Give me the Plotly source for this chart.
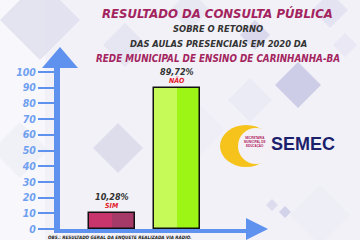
import plotly.graph_objects as go

# ---- data ----
categories = ["SIM", "NÃO"]
values = [10.28, 89.72]
value_labels = ["10,28%", "89,72%"]
tick_values = [0, 10, 20, 30, 40, 50, 60, 70, 80, 90, 100]
tick_labels = ["0", "10", "20", "30", "40", "50", "60", "70", "80", "90", "100"]
light_colors = ["#c8356c", "#c6fa58"]
dark_colors = ["#a53a68", "#9df516"]

W, H = 360, 240
def P(x, y):
    return x / W, 1 - y / H

BLUE = "#5f92ee"
MAG = "#a3245e"
FONT = "Liberation Sans Narrow, DejaVu Sans Condensed, Liberation Sans, sans-serif"

fig = go.Figure()
bw = 0.70
fig.add_trace(go.Bar(x=categories, y=values, width=bw, offset=-bw / 2,
                     marker=dict(color=light_colors, line=dict(width=0)), hoverinfo="skip"))
fig.add_trace(go.Bar(x=categories, y=values, width=bw / 2, offset=0,
                     marker=dict(color=dark_colors, line=dict(width=0)), hoverinfo="skip"))
fig.add_trace(go.Bar(x=categories, y=values, width=bw, offset=-bw / 2,
                     marker=dict(color="rgba(0,0,0,0)", line=dict(width=1.5, color="#111")),
                     hoverinfo="skip"))

y0_px, ytop_px, px_per_unit = 229, 67, 1.57
x_left_px, x_right_px = 60, 248
c0_px, c_step = 112, 65

shapes = []
def poly(pts, color, opacity=1.0):
    d = "M " + " L ".join(f"{P(x, y)[0]:.4f},{P(x, y)[1]:.4f}" for x, y in pts) + " Z"
    shapes.append(dict(type="path", path=d, xref="paper", yref="paper", fillcolor=color,
                       line=dict(width=0), layer="below", opacity=opacity))

# light left-side glow
shapes.append(dict(type="rect", xref="paper", yref="paper", x0=0, x1=P(45, 0)[0], y0=0, y1=1,
                   fillcolor="#fafafd", line=dict(width=0), layer="below", opacity=0.7))
for cx, cy, r, col, op in [
    (40, 20, 40, "#dfdfee", 0.8), (125, 45, 22, "#e2e2f0", 0.8), (118, 148, 25, "#dadaea", 0.9),
    (190, 10, 20, "#e4e4f0", 0.7), (298, 85, 23, "#c9c9e6", 0.9), (255, 35, 15, "#d2d2ea", 0.8),
    (330, 10, 18, "#e0e0ef", 0.8), (345, 45, 12, "#e6e6f2", 0.8), (272, 205, 6, "#dcdcee", 1),
    (285, 212, 6, "#d2d2ea", 1), (320, 215, 30, "#ececf5", 0.7), (190, 130, 35, "#ececf5", 0.6),
    (20, 150, 28, "#ebebf4", 0.6), (250, 100, 22, "#e8e8f3", 0.7)]:
    poly([(cx, cy - r), (cx + r, cy), (cx, cy + r), (cx - r, cy)], col, op)

# axis arrowheads
shapes.append(dict(type="path", xref="paper", yref="paper", fillcolor=BLUE, line=dict(width=0),
                   path="M {} {} L {} {} L {} {} Z".format(*P(60, 47), *P(42, 68), *P(78, 68))))
shapes.append(dict(type="path", xref="paper", yref="paper", fillcolor=BLUE, line=dict(width=0),
                   path="M {} {} L {} {} L {} {} Z".format(*P(268, 229), *P(246, 218), *P(246, 240))))

# SEMEC logo
shapes.append(dict(type="circle", xref="paper", yref="paper", fillcolor="#f6c31c", line=dict(width=0),
                   x0=P(220, 0)[0], x1=P(272, 0)[0], y0=P(0, 167)[1], y1=P(0, 125)[1]))
shapes.append(dict(type="circle", xref="paper", yref="paper", fillcolor="#f4f1f6", line=dict(width=0),
                   x0=P(238, 0)[0], x1=P(274, 0)[0], y0=P(0, 164)[1], y1=P(0, 128)[1]))

annotations = []
def txt(s, x, y, size, color, weight="bold", style="italic", family=FONT):
    annotations.append(dict(text=s, x=P(x, y)[0], y=P(x, y)[1], xref="paper", yref="paper",
                            showarrow=False, xanchor="center", yanchor="middle",
                            font=dict(size=size, color=color, family=family, weight=weight, style=style)))

txt("RESULTADO DA CONSULTA PÚBLICA", 218, 13, 13, MAG)
txt("SOBRE O RETORNO", 218, 28, 9.3, "#333")
txt("DAS AULAS PRESENCIAIS EM 2020 DA", 219, 43, 9.3, "#333")
txt("REDE MUNICIPAL DE ENSINO DE CARINHANHA-BA", 218, 58, 9.8, MAG)
txt("OBS.: RESULTADO GERAL DA ENQUETE REALIZADA VIA RÁDIO.", 120, 237, 4.6, "#222")
txt("SEMEC", 303, 144, 18, "#1c1f6c", style="normal", family="Liberation Sans, Arial, sans-serif")
txt("SECRETARIA<br>MUNICIPAL DE<br>EDUCAÇÃO", 254, 142, 3, "#b02060", style="normal",
    family="Liberation Sans, sans-serif")

for cat, v, lab in zip(categories, values, value_labels):
    annotations.append(dict(x=cat, y=v, xref="x", yref="y", text=lab, showarrow=False,
                            yanchor="bottom", yshift=9,
                            font=dict(size=9, color="#333", family=FONT, weight="bold", style="italic")))
    annotations.append(dict(x=cat, y=v, xref="x", yref="y", text=cat, showarrow=False,
                            yanchor="bottom", yshift=1,
                            font=dict(size=7, color="#e3202a", family=FONT, weight="bold", style="italic")))

yrange_top = (y0_px - ytop_px) / px_per_unit
fig.update_layout(
    width=W, height=H, autosize=False, margin=dict(l=0, r=0, t=0, b=0, pad=0),
    paper_bgcolor="#f2f1f8", plot_bgcolor="rgba(0,0,0,0)",
    barmode="overlay", bargap=0, showlegend=False,
    shapes=shapes, annotations=annotations,
    xaxis=dict(domain=[x_left_px / W, x_right_px / W],
               range=[(x_left_px - c0_px) / c_step, (x_right_px - c0_px) / c_step],
               showline=True, linewidth=4, linecolor=BLUE, showticklabels=False,
               ticks="", showgrid=False, zeroline=False, fixedrange=True, automargin=False),
    yaxis=dict(domain=[(H - y0_px) / H, (H - ytop_px) / H], range=[0, yrange_top],
               showline=True, linewidth=6, linecolor=BLUE, showgrid=False, zeroline=False,
               tickvals=tick_values, ticktext=tick_labels, ticks="outside", ticklen=16,
               tickwidth=2, tickcolor=BLUE, automargin=False,
               tickfont=dict(size=10.5, color="#6f9ff0", family=FONT, weight="bold", style="italic")),
)

fig.write_html("out.html")
